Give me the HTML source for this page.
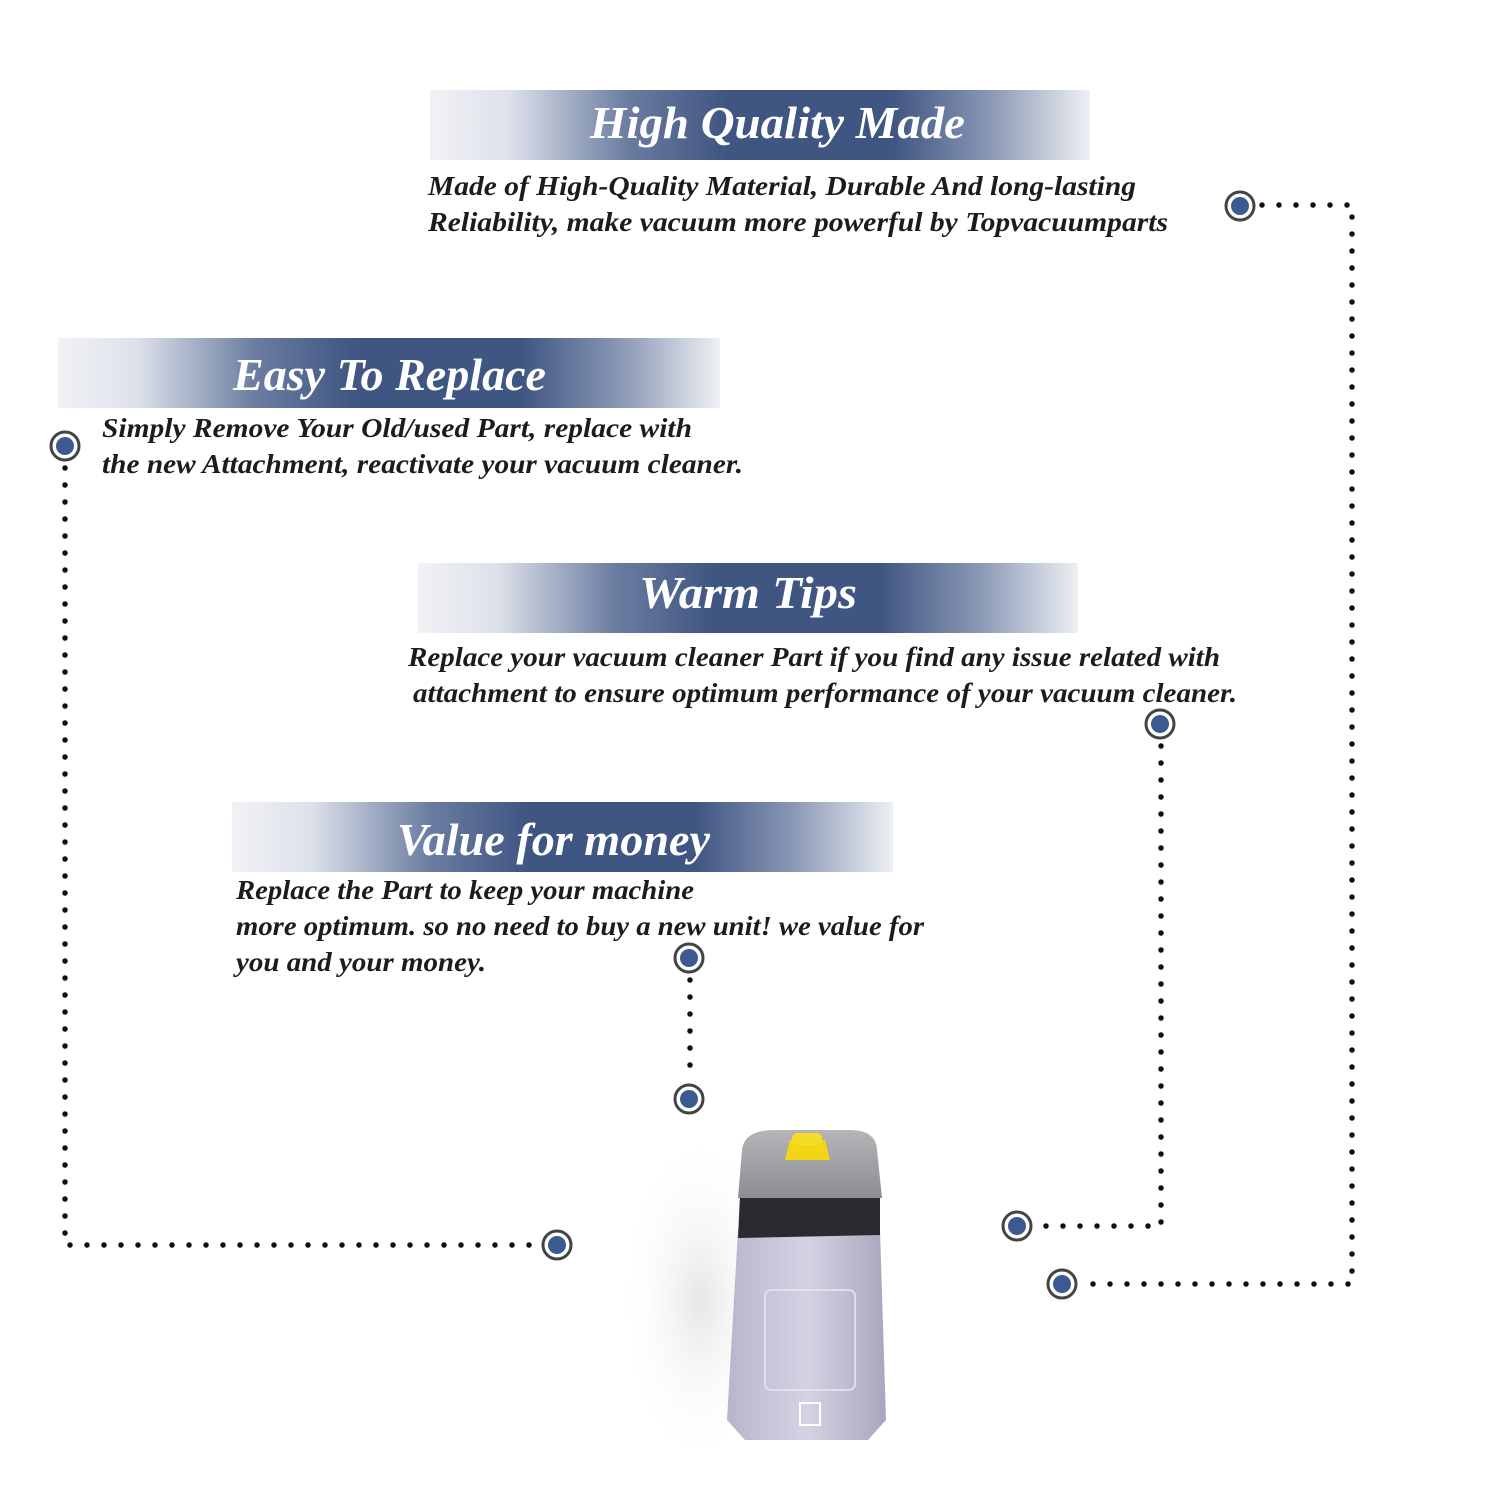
<!DOCTYPE html>
<html><head><meta charset="utf-8"><style>html,body{margin:0;padding:0;background:#fff}svg{display:block}</style></head>
<body>
<svg width="1500" height="1500" viewBox="0 0 1500 1500" xmlns="http://www.w3.org/2000/svg">
<defs>
<linearGradient id="bn" x1="0" x2="1" y1="0" y2="0">
<stop offset="0" stop-color="#f1f2f6"/>
<stop offset="0.12" stop-color="#dde1ea"/>
<stop offset="0.3" stop-color="#6a7ca0"/>
<stop offset="0.45" stop-color="#3f5582"/>
<stop offset="0.7" stop-color="#3f5582"/>
<stop offset="0.85" stop-color="#8a98b5"/>
<stop offset="1" stop-color="#eef0f4"/>
</linearGradient>
<linearGradient id="jar" x1="0" x2="1">
<stop offset="0" stop-color="#b9b4cc"/><stop offset="0.5" stop-color="#d6d2e4"/><stop offset="1" stop-color="#aaa5be"/>
</linearGradient>
<linearGradient id="lid" x1="0" x2="0" y1="0" y2="1">
<stop offset="0" stop-color="#b5b5b8"/><stop offset="1" stop-color="#8c8d91"/>
</linearGradient>
<radialGradient id="sh" cx="0.5" cy="0.5" r="0.5"><stop offset="0" stop-color="#e6e6e8"/><stop offset="1" stop-color="#fff" stop-opacity="0"/></radialGradient>
</defs>

<g font-family="Liberation Serif, serif" font-style="italic">
<rect x="430" y="90" width="660" height="70" fill="url(#bn)"/>
<text x="590" y="138" font-size="46" font-weight="bold" fill="#fff" textLength="375" lengthAdjust="spacingAndGlyphs">High Quality Made</text>
<rect x="58" y="338" width="662" height="70" fill="url(#bn)"/>
<text x="233" y="390" font-size="46" font-weight="bold" fill="#fff" textLength="313" lengthAdjust="spacingAndGlyphs">Easy To Replace</text>
<rect x="418" y="563" width="660" height="70" fill="url(#bn)"/>
<text x="639" y="608" font-size="46" font-weight="bold" fill="#fff" textLength="218" lengthAdjust="spacingAndGlyphs">Warm Tips</text>
<rect x="232" y="802" width="661" height="70" fill="url(#bn)"/>
<text x="397" y="855" font-size="46" font-weight="bold" fill="#fff" textLength="313" lengthAdjust="spacingAndGlyphs">Value for money</text>

<g font-size="27" font-weight="bold" fill="#1c1c1c">
<text x="428" y="195" textLength="708" lengthAdjust="spacingAndGlyphs">Made of  High-Quality Material, Durable And long-lasting</text>
<text x="428" y="231" textLength="740" lengthAdjust="spacingAndGlyphs">Reliability, make vacuum more powerful by Topvacuumparts</text>
<text x="102" y="437" textLength="590" lengthAdjust="spacingAndGlyphs">Simply Remove Your Old/used Part, replace with</text>
<text x="102" y="473" textLength="641" lengthAdjust="spacingAndGlyphs">the new Attachment, reactivate your vacuum cleaner.</text>
<text x="408" y="666" textLength="812" lengthAdjust="spacingAndGlyphs">Replace your vacuum cleaner Part if you find any issue related with</text>
<text x="413" y="702" textLength="824" lengthAdjust="spacingAndGlyphs">attachment to ensure optimum performance of your vacuum cleaner.</text>
<text x="236" y="899" textLength="458" lengthAdjust="spacingAndGlyphs">Replace the Part to keep your machine</text>
<text x="236" y="935" textLength="688" lengthAdjust="spacingAndGlyphs">more optimum. so no need to buy a new unit! we value for</text>
<text x="236" y="971" textLength="250" lengthAdjust="spacingAndGlyphs">you and your money.</text>
</g>
</g>

<g fill="none" stroke="#111" stroke-width="5.5" stroke-linecap="round" stroke-dasharray="0 17">
<path d="M1262 205 H1352 V1284 H1086"/>
<path d="M65 468 V1245 H535"/>
<path d="M1161 746 V1226 H1040"/>
<path d="M690 980 V1078"/>
</g>

<g stroke="#444" stroke-width="3" fill="#fff">
<circle cx="1240" cy="206" r="14"/><circle cx="65" cy="446" r="14"/><circle cx="1160" cy="724" r="14"/>
<circle cx="689" cy="958" r="14"/><circle cx="689" cy="1099" r="14"/><circle cx="557" cy="1245" r="14"/>
<circle cx="1017" cy="1226" r="14"/><circle cx="1062" cy="1284" r="14"/>
</g>
<g fill="#3d5a90">
<circle cx="1240" cy="206" r="9"/><circle cx="65" cy="446" r="9"/><circle cx="1160" cy="724" r="9"/>
<circle cx="689" cy="958" r="9"/><circle cx="689" cy="1099" r="9"/><circle cx="557" cy="1245" r="9"/>
<circle cx="1017" cy="1226" r="9"/><circle cx="1062" cy="1284" r="9"/>
</g>

<ellipse cx="700" cy="1300" rx="80" ry="170" fill="url(#sh)"/>
<path d="M738 1230 L880 1230 L886 1420 L868 1440 L745 1440 L727 1420 Z" fill="url(#jar)"/>
<rect x="765" y="1290" width="90" height="100" rx="6" fill="none" stroke="#e8e6f0" stroke-width="2" opacity="0.8"/>
<rect x="800" y="1403" width="20" height="22" fill="none" stroke="#fff" stroke-width="2"/>
<path d="M740 1195 L880 1195 L880 1235 L738 1238 Z" fill="#2a2b30"/>
<path d="M742 1150 Q744 1130 775 1130 L850 1130 Q876 1130 877 1150 L882 1198 L738 1198 Z" fill="url(#lid)"/>
<path d="M790 1140 L825 1140 L830 1160 L785 1160 Z" fill="#f2d515"/>
<rect x="792" y="1133" width="30" height="12" rx="5" fill="#f6dc2a"/>
</svg>
</body></html>
